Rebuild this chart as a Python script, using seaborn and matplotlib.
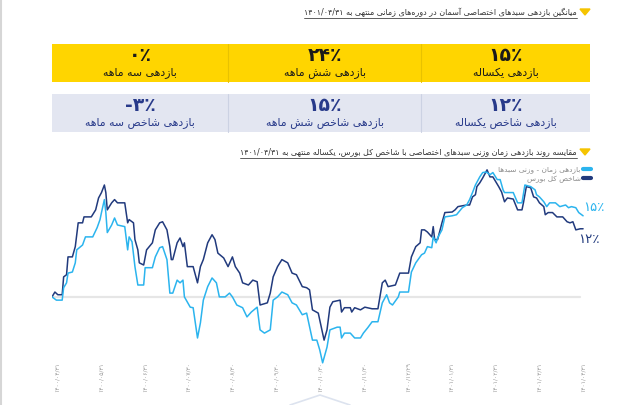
import re
import numpy as np
import pandas as pd
import matplotlib
matplotlib.use("Agg")
import matplotlib.pyplot as plt
from matplotlib.lines import Line2D
from matplotlib.patches import Rectangle, Polygon
import seaborn as sns

# --- data ---
days_fund = [0, 3, 7, 8, 10, 11, 14, 16, 17, 21,
             23, 28, 31, 33, 34, 36, 37, 38, 41, 43,
             45, 50, 52, 53, 55, 57, 59, 63, 64, 69,
             71, 74, 76, 79, 81, 83, 86, 88, 90, 91,
             95, 97, 100, 102, 104, 107, 110, 113, 115, 119,
             122, 124, 127, 131, 134, 137, 141, 143, 146, 150,
             152, 155, 158, 162, 165, 168, 172, 175, 179, 182,
             184, 186, 189, 191, 196, 198, 199, 201, 205, 208,
             212, 214, 217, 220, 224, 227, 230, 232, 234, 238,
             239, 245, 247, 250, 254, 256, 258, 261, 262, 264,
             265, 268, 270, 275, 278, 282, 285, 287, 289, 291,
             294, 296, 298, 299, 301, 303, 306, 308, 310, 311,
             317, 320, 323, 325, 329, 332, 333, 335, 338, 340,
             342, 346, 349, 353, 355, 357, 360, 362, 365]
ret_fund = [0.0, -0.6, -0.6, 1.7, 2.6, 4.4, 4.6, 6.3, 8.7, 9.6,
            11.1, 11.1, 12.8, 14.3, 15.6, 18.0, 15.6, 11.9, 13.3, 14.6,
            13.3, 13.0, 8.7, 11.1, 10.2, 5.6, 2.2, 2.2, 5.4, 5.4,
            7.4, 9.1, 9.3, 6.9, 0.7, 0.7, 3.1, 2.6, 3.1, 0.0,
            -1.9, -2.0, -7.6, -4.8, -0.6, 1.9, 3.5, 2.6, 0.0, 0.0,
            0.7, 0.0, -1.5, -2.0, -3.7, -2.8, -1.9, -6.1, -6.7, -6.1,
            -0.6, 0.0, 0.9, 0.4, -1.1, -1.5, -3.3, -3.0, -8.0, -8.0,
            -9.8, -12.2, -9.3, -6.1, -5.6, -5.6, -7.6, -6.7, -6.7, -7.6,
            -7.6, -6.7, -5.7, -4.6, -4.6, -1.1, 0.4, -1.1, -1.5, 0.0,
            0.9, 0.9, 4.6, 6.3, 7.8, 8.1, 9.3, 9.1, 11.1, 10.0,
            10.9, 12.4, 14.8, 15.0, 15.2, 16.5, 17.0, 18.0, 19.3, 20.7,
            22.2, 23.0, 23.1, 23.0, 22.6, 23.0, 21.7, 21.7, 19.8, 19.3,
            19.3, 17.4, 17.4, 20.7, 20.4, 19.8, 18.9, 18.5, 17.6, 16.7,
            17.4, 17.4, 16.7, 17.0, 16.5, 16.7, 16.5, 15.6, 15.0]

days_index = [0, 2, 4, 7, 8, 10, 11, 14, 16, 18,
              21, 22, 27, 30, 32, 34, 36, 37, 38, 41,
              43, 45, 50, 52, 53, 56, 57, 59, 60, 63,
              65, 69, 71, 74, 76, 79, 81, 82, 83, 86,
              88, 90, 91, 93, 97, 100, 102, 104, 107, 110,
              112, 114, 118, 121, 124, 126, 129, 131, 135, 138,
              141, 143, 148, 150, 152, 155, 158, 162, 165, 168,
              172, 175, 177, 179, 183, 186, 187, 189, 191, 193,
              198, 199, 201, 205, 206, 208, 212, 215, 220, 224,
              227, 229, 231, 236, 239, 245, 247, 250, 253, 254,
              256, 258, 261, 262, 263, 265, 268, 270, 275, 277,
              279, 285, 287, 289, 291, 292, 294, 296, 298, 299,
              301, 303, 307, 309, 311, 313, 317, 320, 323, 324,
              326, 329, 331, 333, 335, 338, 339, 341, 344, 347,
              351, 354, 356, 358, 360, 363, 365]
ret_index = [0.0, 0.9, 0.4, 0.4, 3.7, 4.1, 7.4, 7.4, 9.3, 13.7,
             13.7, 14.8, 14.8, 16.1, 18.3, 19.3, 20.7, 19.3, 16.1, 17.4,
             18.0, 17.4, 17.4, 13.7, 14.3, 13.7, 10.6, 8.7, 6.3, 5.9,
             8.7, 10.0, 12.4, 13.7, 13.9, 12.4, 9.3, 6.9, 6.9, 10.0,
             10.9, 9.3, 10.0, 5.6, 5.6, 2.6, 5.6, 6.9, 10.0, 11.5,
             10.6, 8.1, 7.2, 5.6, 7.4, 5.6, 4.4, 2.6, 2.2, 3.1,
             2.8, -1.5, -1.1, 0.7, 3.7, 5.6, 6.9, 6.3, 4.4, 4.1,
             1.9, 1.7, 1.3, -2.4, -3.0, -6.7, -8.0, -6.1, -1.9, -0.9,
             -0.6, -2.8, -2.0, -2.0, -2.8, -2.0, -2.4, -1.9, -2.2, -2.2,
             2.6, 3.1, 1.9, 2.2, 4.4, 4.4, 7.4, 9.3, 10.0, 12.4,
             12.4, 12.0, 11.1, 13.0, 10.6, 10.6, 13.7, 15.6, 15.7, 16.1,
             16.7, 17.0, 17.0, 18.5, 18.9, 20.4, 21.1, 22.0, 23.0, 23.5,
             22.2, 22.2, 20.4, 19.4, 17.6, 18.3, 18.1, 16.1, 16.1, 17.4,
             20.4, 20.2, 18.5, 18.3, 17.4, 16.7, 15.2, 15.6, 15.6, 14.8,
             14.8, 13.9, 13.7, 13.9, 12.4, 12.6, 12.6]

tick_labels = ["۱۴۰۰/۰۴/۳۱", "۱۴۰۰/۰۵/۳۱", "۱۴۰۰/۰۶/۳۱", "۱۴۰۰/۰۷/۳۰",
               "۱۴۰۰/۰۸/۳۰", "۱۴۰۰/۰۹/۳۰", "۱۴۰۰/۱۰/۳۰", "۱۴۰۰/۱۱/۳۰",
               "۱۴۰۰/۱۲/۲۹", "۱۴۰۱/۰۱/۳۱", "۱۴۰۱/۰۲/۳۱", "۱۴۰۱/۰۳/۳۱",
               "۱۴۰۱/۰۴/۳۱"]

series_names = ["بازدهی زمان - وزنی سبدها", "شاخص کل بورس"]
end_labels = ["۱۵٪", "۱۲٪"]

card_values = ["۱۵٪", "۲۴٪", "۰٪"]
card_labels = ["بازدهی یکساله", "بازدهی شش ماهه", "بازدهی سه ماهه"]
index_values = ["۱۲٪", "۱۵٪", "-۳٪"]
index_labels = ["بازدهی شاخص یکساله", "بازدهی شاخص شش ماهه", "بازدهی شاخص سه ماهه"]

title_top = "میانگین بازدهی سبدهای اختصاصی آسمان در دوره‌های زمانی منتهی به ۱۴۰۱/۰۴/۳۱"
title_chart = "مقایسه روند بازدهی زمان وزنی سبدهای اختصاصی با شاخص کل بورس، یکساله منتهی به ۱۴۰۱/۰۴/۳۱"

# --- minimal Persian shaping (matplotlib has no text shaping) ---
FORMS = {
    "ا": (0xFE8D, 2), "آ": (0xFE81, 2), "ب": (0xFE8F, 4), "ت": (0xFE95, 4),
    "ث": (0xFE99, 4), "ج": (0xFE9D, 4), "ح": (0xFEA1, 4), "خ": (0xFEA5, 4),
    "د": (0xFEA9, 2), "ذ": (0xFEAB, 2), "ر": (0xFEAD, 2), "ز": (0xFEAF, 2),
    "س": (0xFEB1, 4), "ش": (0xFEB5, 4), "ص": (0xFEB9, 4), "ض": (0xFEBD, 4),
    "ط": (0xFEC1, 4), "ظ": (0xFEC5, 4), "ع": (0xFEC9, 4), "غ": (0xFECD, 4),
    "ف": (0xFED1, 4), "ق": (0xFED5, 4), "ل": (0xFEDD, 4), "م": (0xFEE1, 4),
    "ن": (0xFEE5, 4), "ه": (0xFEE9, 4), "و": (0xFEED, 2), "پ": (0xFB56, 4),
    "چ": (0xFB7A, 4), "ژ": (0xFB8A, 2), "ک": (0xFB8E, 4), "گ": (0xFB92, 4),
    "ی": (0xFBFC, 4),
}


def fa(text):
    out = []
    n = len(text)
    for i, c in enumerate(text):
        if c not in FORMS:
            out.append(c)
            continue
        base, k = FORMS[c]
        prev = i > 0 and text[i - 1] in FORMS and FORMS[text[i - 1]][1] == 4
        nxt = k == 4 and i < n - 1 and text[i + 1] in FORMS
        out.append(chr(base + (1 if prev else 0) + (2 if nxt else 0)))
    s = "".join(out).replace("\u200c", "")
    parts = re.findall(r"[0-9۰-۹/٪%.]+|.", s)
    return "".join(reversed(parts))


# --- figure ---
sns.set_theme(style="white")
plt.rcParams["font.family"] = ["DejaVu Sans"]

W, H = 635, 405
fig = plt.figure(figsize=(W / 100, H / 100), dpi=100)
fig.patch.set_facecolor("white")

YELLOW = "#ffd500"
NAVY = "#213a7d"
LIGHT = "#2bb4ee"


def fx(x):
    return x / W


def fy(y):
    return 1 - y / H


# left border and bottom decoration
fig.add_artist(Line2D([fx(1), fx(1)], [0, 1], color="#d6d6d6", lw=1.5))
fig.add_artist(Line2D([fx(290), fx(320), fx(350)], [fy(405), fy(395), fy(405)],
                      color="#dde3ef", lw=1.2))


def section_title(text, y):
    fig.add_artist(Polygon([[fx(580), fy(y - 3)], [fx(590), fy(y - 3)], [fx(585), fy(y + 3)]],
                           closed=True, color="#f5c400", transform=fig.transFigure))
    t = fig.text(fx(577), fy(y), fa(text), ha="right", va="center", fontsize=5.8, color="#333333")
    return t


t1 = section_title(title_top, 12)
t2 = section_title(title_chart, 152)

# summary cards
cells = [(421, 590), (228, 421), (52, 228)]
for top, bottom, face, edge, vals, labs, col in [
        (44, 82, YELLOW, "#e8c200", card_values, card_labels, "#1a1a1a"),
        (94, 132, "#e3e6f1", "#ccd2e3", index_values, index_labels, "#283a8a")]:
    fig.add_artist(Rectangle((fx(52), fy(bottom)), fx(590 - 52), (bottom - top) / H,
                             transform=fig.transFigure, color=face, lw=0))
    for xd in (228, 421):
        fig.add_artist(Line2D([fx(xd), fx(xd)], [fy(bottom), fy(top)], color=edge, lw=0.8))
    for (x0, x1), v, lab in zip(cells, vals, labs):
        cx = (x0 + x1) / 2
        fig.text(fx(cx), fy(top + 11.5), v, ha="center", va="center",
                 fontsize=13.5, fontweight="bold", color=col)
        fig.text(fx(cx), fy(top + 29), fa(lab), ha="center", va="center",
                 fontsize=7.8, color=col)

# chart
ax = fig.add_axes([fx(52), fy(365), fx(534), 200 / H])
df = pd.concat([
    pd.DataFrame({"day": days_fund, "ret": ret_fund, "series": series_names[0]}),
    pd.DataFrame({"day": days_index, "ret": ret_index, "series": series_names[1]}),
])
ax.axhline(0, xmin=0, xmax=(580 - 52) / 534, color="#e6e6e6", lw=1.6, zorder=0)
sns.lineplot(data=df, x="day", y="ret", hue="series", estimator=None,
             palette={series_names[0]: LIGHT, series_names[1]: NAVY},
             hue_order=[series_names[1], series_names[0]],
             linewidth=1.1, legend=False, ax=ax)
ax.set_xlim(0, 367)
ax.set_ylim(-12.6, 24.4)
ax.set_xlabel("")
ax.set_ylabel("")
ax.set_yticks([])
ax.set_xticks(np.linspace(3.5, 365, 13))
ax.set_xticklabels(tick_labels, rotation=90, fontsize=4.3, color="#9a9a9a")
ax.tick_params(axis="x", length=0, pad=-2)
sns.despine(ax=ax, left=True, bottom=True)
ax.patch.set_alpha(0)

ax.annotate(end_labels[0], (days_fund[-1], ret_fund[-1]), xytext=(0, 6),
            textcoords="offset points", ha="left", va="center", fontsize=9.5, color=LIGHT,
            annotation_clip=False)
ax.annotate(end_labels[1], (days_index[-1], ret_index[-1]), xytext=(-3.5, -8),
            textcoords="offset points", ha="left", va="center", fontsize=9.5, color=NAVY,
            annotation_clip=False)

handles = [Line2D([], [], color=LIGHT, lw=3, solid_capstyle="round"),
           Line2D([], [], color=NAVY, lw=3, solid_capstyle="round")]
ax.legend(handles, [fa(s) for s in series_names], loc="upper right",
          bbox_to_anchor=(fx(591), fy(166)), bbox_transform=fig.transFigure,
          frameon=False, markerfirst=False, fontsize=5.3, labelcolor="#8a8a8a",
          handlelength=1.1, handletextpad=0.3, labelspacing=0.35,
          borderaxespad=0, borderpad=0)

# underline the section titles
fig.canvas.draw()
r = fig.canvas.get_renderer()
inv = fig.transFigure.inverted()
for t in (t1, t2):
    bb = t.get_window_extent(r)
    (a0, b0), (a1, _) = inv.transform([[bb.x0, bb.y0 - 1], [bb.x1, bb.y0]])
    fig.add_artist(Line2D([a0, a1], [b0, b0], color="#444444", lw=0.6))

fig.savefig("out.png", dpi=100)
